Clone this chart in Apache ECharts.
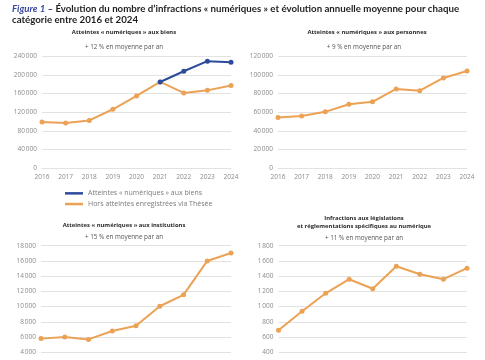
<!DOCTYPE html>
<html><head><meta charset="utf-8">
<script src="https://cdn.jsdelivr.net/npm/echarts@6/dist/echarts.min.js"></script>
<style>html,body{margin:0;padding:0;background:#fff}#c{width:485px;height:360px}</style>
</head><body><div id="c"></div>
<script>
const years = ['2016','2017','2018','2019','2020','2021','2022','2023','2024'];
const biensNum = [null,null,null,null,null,185000,208000,229500,227500];
const biensHors = [99000,97000,102500,126500,155000,185000,161500,167000,177500];
const personnes = [54500,56000,60500,68700,71200,85000,83200,96800,104300];
const institutions = [5800,6000,5700,6800,7500,10050,11550,16000,17050];
const legislations = [690,940,1175,1360,1235,1530,1425,1360,1505];

const ORANGE = '#EBA255';
const BLUE = '#2D4B9B';
const FONT = 'Open Sans';
const fmt = v => String(v).replace(/\B(?=(\d{3})+(?!\d))/g, '\u202f');

function xAx(i){return {type:'category',gridIndex:i,data:years,boundaryGap:false,
  axisLine:{lineStyle:{color:'#e2e2e2'}},axisTick:{show:false},
  axisLabel:{color:'#8a8a8a',fontSize:6.5,fontFamily:FONT,margin:5}};}
function yAx(i,max,interval){return {type:'value',gridIndex:i,min:0,max:max,interval:interval,
  axisLine:{show:false},axisTick:{show:false},
  splitLine:{lineStyle:{color:'#e2e2e2',width:1}},
  axisLabel:{color:'#8a8a8a',fontSize:6.5,fontFamily:FONT,margin:5,formatter:v=>fmt(v)}};}
function ser(name,i,data,color,z){return {name:name,type:'line',xAxisIndex:i,yAxisIndex:i,data:data,
  symbol:'circle',symbolSize:5,lineStyle:{color:color,width:2},itemStyle:{color:color},z:z||2,animation:false};}

function t(text,x,y,bold){return {text:text,left:x,top:y,textAlign:'center',padding:0,
  textStyle:{fontSize:bold?5.9:6.3,fontWeight:bold?'bold':'normal',color:bold?'#2a2a2a':'#555',fontFamily:FONT,lineHeight:8}};}
function g(l,tp,w,h){return {left:l,top:tp,width:w,height:h,outerBoundsMode:'none',containLabel:false};}

const chart = echarts.init(document.getElementById('c'),null,{renderer:'canvas'});
chart.setOption({
  backgroundColor:'#fff',
  animation:false,
  title:[
    {text:'{i|Figure 1 –} {b|Évolution du nombre d’infractions « numériques » et évolution annuelle moyenne pour chaque}\n{b|catégorie entre 2016 et 2024}',
     left:12,top:3,padding:0,
     textStyle:{fontSize:9.7,lineHeight:11,fontFamily:'Lato',color:'#1f1f1f',
       rich:{
       i:{fontStyle:'italic',color:'#3848a0',fontSize:9.7,fontFamily:'Lato',lineHeight:11},
       b:{fontWeight:'bold',color:'#1f1f1f',fontSize:9.7,fontFamily:'Lato',lineHeight:11}}}},
    t('Atteintes « numériques » aux biens',124,28,true),
    t('+ 12 % en moyenne par an',124,43.5,false),
    t('Atteintes « numériques » aux personnes',367,28,true),
    t('+ 9 % en moyenne par an',364,43.5,false),
    t('Atteintes « numériques » aux institutions',124,221,true),
    t('+ 15 % en moyenne par an',124,233,false),
    t('Infractions aux législations\net réglementations spécifiques au numérique',364,214,true),
    t('+ 11 % en moyenne par an',364,234,false)
  ],
  legend:{orient:'vertical',left:65,top:188,padding:0,itemWidth:18,itemHeight:2.5,itemGap:0,icon:'rect',
    textStyle:{color:'#7a7a7a',fontSize:7,lineHeight:10.7,fontFamily:FONT},
    data:['Atteintes « numériques » aux biens','Hors atteintes enregistrées via Thésée']},
  grid:[
    g(42,56.3,189,112),
    g(278,56.3,189,112),
    g(41,245.7,190,137.1),
    g(278.5,245.7,188.5,137.1)
  ],
  xAxis:[xAx(0),xAx(1),xAx(2),xAx(3)],
  yAxis:[yAx(0,240000,40000),yAx(1,120000,20000),yAx(2,18000,2000),yAx(3,1800,200)],
  series:[
    ser('Hors atteintes enregistrées via Thésée',0,biensHors,ORANGE,2),
    ser('Atteintes « numériques » aux biens',0,biensNum,BLUE,3),
    ser('personnes',1,personnes,ORANGE),
    ser('institutions',2,institutions,ORANGE),
    ser('legislations',3,legislations,ORANGE)
  ]
});
</script></body></html>
